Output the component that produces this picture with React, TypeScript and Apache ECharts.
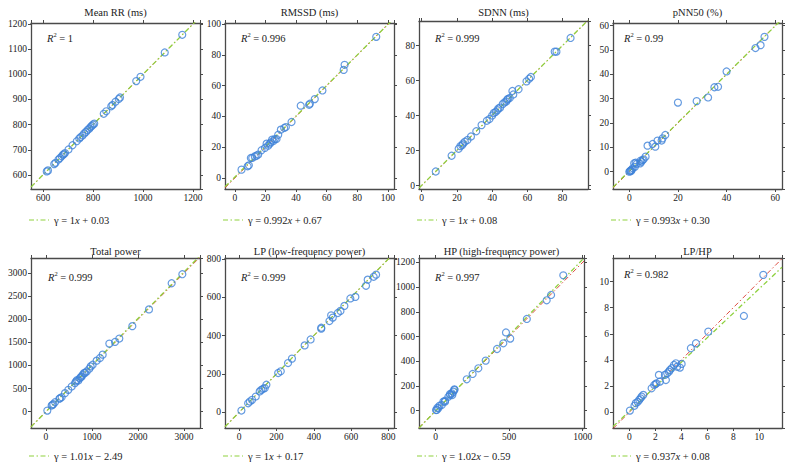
import { useEffect, useRef } from "react";
import * as echarts from "echarts";

// ---------- data ----------
const titles = [
  "Mean RR (ms)",
  "RMSSD (ms)",
  "SDNN (ms)",
  "pNN50 (%)",
  "Total power",
  "LP (low-frequency power)",
  "HP (high-frequency power)",
  "LP/HP",
];
const r2Labels = ["1", "0.996", "0.999", "0.99", "0.999", "0.999", "0.997", "0.982"];
const fitSlopes = [1, 0.992, 1, 0.993, 1.01, 1, 1.02, 0.937];
const fitIntercepts = [0.03, 0.67, 0.08, 0.3, -2.49, 0.17, -0.59, 0.08];
const fitSlopeText = ["1", "0.992", "1", "0.993", "1.01", "1", "1.02", "0.937"];
const fitInterceptText = ["+ 0.03", "+ 0.67", "+ 0.08", "+ 0.30", "\u2212 2.49", "+ 0.17", "\u2212 0.59", "+ 0.08"];
// the HP panel's printed x ticks are compressed relative to its y ticks (lines run at 1.2 in axis units)
const axisUnitRatio = [1, 1, 1, 1, 1, 1, 1.2, 1];

const meanRR = [
  [615, 614], [620, 618], [645, 643], [650, 648], [662, 661], [668, 667], [675, 674], [680, 680],
  [684, 683], [688, 687], [702, 701], [718, 718], [735, 734], [745, 745], [750, 750], [758, 757],
  [765, 765], [772, 771], [778, 778], [785, 784], [790, 790], [795, 795], [800, 800], [805, 804],
  [843, 843], [853, 853], [873, 873], [878, 878], [890, 891], [903, 902], [908, 908], [973, 973],
  [990, 990], [1087, 1087], [1157, 1157],
];
const rmssd = [
  [4.3, 5.4], [8.3, 7.6], [9.1, 8.2], [10.4, 13], [11.3, 13], [13, 14], [14.1, 14.5], [15.2, 15.2],
  [17.4, 18], [19.6, 19.5], [20.7, 22.3], [21.7, 21], [22.8, 22.3], [23.5, 23.2], [24.3, 24.9],
  [25.2, 24], [26.1, 25.3], [27.2, 25.3], [28.3, 28.1], [30, 31.4], [32.2, 32.5], [33.3, 33.1],
  [37, 36.4], [43, 47], [48.5, 47.6], [49, 48.3], [52.2, 51.3], [57.2, 56.9], [71.1, 70.3],
  [71.7, 73.6], [92.4, 91.8],
];
const sdnn = [
  [8, 8], [17, 17], [21, 21], [22, 22.5], [23, 23], [23.5, 24], [24.5, 25], [26, 26], [28, 28],
  [31, 31], [34, 34.5], [37, 37], [38.5, 38], [40, 40], [41, 41.5], [42, 42], [43, 43], [43.5, 44],
  [44.5, 44.5], [46, 46.5], [47, 47.5], [48, 48], [48.5, 49], [49, 49.5], [50, 50], [51.5, 54],
  [52, 52], [55, 55], [59.5, 59.5], [61, 61], [62, 62], [75.5, 76.5], [76.5, 76.5], [84.5, 84.3],
];
const pnn50 = [
  [0, 0], [0.3, 0.2], [0.5, 0.5], [0.8, 0.3], [1, 0.8], [1.4, 1.4], [2, 3.5], [2.6, 3.7], [2.3, 2],
  [3, 3.2], [4.4, 3.4], [4.6, 4.5], [5, 4.1], [5.5, 4.8], [5.9, 5.1], [6.7, 6.2], [7.5, 10.7],
  [9.6, 11.4], [10.7, 10.3], [11.6, 12.8], [13.3, 12.8], [13.7, 13.7], [14.8, 15.1], [20, 28.4],
  [27.7, 29], [32.4, 30.5], [35, 34.7], [36.5, 34.9], [40, 41.2], [51.9, 50.8], [54, 52], [55.6, 55.4],
];
const totalPower = [
  [29, 22], [123, 131], [140, 150], [160, 160], [196, 203], [290, 280], [304, 290], [340, 312],
  [413, 400], [486, 472], [558, 545], [630, 617], [652, 654], [670, 680], [703, 675], [739, 726],
  [760, 750], [775, 762], [797, 799], [826, 835], [850, 840], [884, 871], [942, 930], [971, 980],
  [1014, 1017], [1101, 1104], [1174, 1162], [1232, 1235], [1377, 1474], [1500, 1510], [1594, 1583],
  [1877, 1852], [2239, 2215], [2732, 2782], [2964, 2978],
];
const lpPower = [
  [12, 9], [48, 47], [57, 56], [69, 65], [89, 82], [110, 109], [119, 117], [128, 123], [137, 126],
  [146, 144], [209, 205], [223, 214], [262, 257], [283, 280], [351, 349], [383, 380], [440, 436],
  [440, 441], [484, 476], [493, 506], [502, 494], [529, 518], [543, 529], [564, 555], [596, 594],
  [623, 602], [680, 660], [689, 692], [721, 707], [734, 718],
];
const hpPower = [
  [2, 5], [7, 6], [11, 24], [18, 20], [25, 40], [41, 46], [52, 73], [63, 73], [63, 81], [86, 113],
  [97, 135], [98, 127], [109, 140], [113, 127], [120, 154], [127, 168], [127, 173], [211, 254],
  [251, 297], [290, 343], [340, 405], [417, 499], [460, 545], [478, 633], [507, 583], [620, 742],
  [755, 893], [785, 936], [868, 1095],
];
const lpHp = [
  [0.05, 0.13], [0.4, 0.5], [0.5, 0.7], [0.65, 0.8], [0.77, 0.95], [0.87, 1.07], [0.95, 1.2],
  [1.08, 1.33], [1.72, 1.84], [1.92, 2.09], [2.03, 2.17], [2.1, 2.22], [2.28, 2.86], [2.36, 2.35],
  [2.74, 2.86], [2.82, 2.47], [2.92, 2.98], [3.05, 3.11], [3.13, 3.24], [3.26, 3.37], [3.44, 3.62],
  [3.59, 3.75], [3.69, 3.49], [3.9, 3.42], [4.03, 3.7], [4.74, 4.9], [5.13, 5.28], [6.08, 6.17],
  [8.82, 7.37], [10.31, 10.51],
];
const panelData = [meanRR, rmssd, sdnn, pnn50, totalPower, lpPower, hpPower, lpHp];

// axis extents and split numbers
const xMin = [552, -6.5, -1.5, -6.7, -326, -76, -114, -1.25];
const xMax = [1228, 104, 94.4, 62.8, 3348, 830, 1009, 11.75];
const yMin = [544, -7.2, -2, -7.1, -355, -82, -140, -1.2];
const yMax = [1204, 100.8, 94, 61.1, 3329, 805, 1235, 11.8];
const xSplit = [4, 5, 5, 3, 3, 5, 2, 6];
const ySplit = [7, 5, 5, 7, 7, 5, 7, 6];

// ---------- layout ----------
const gridLeft = [31, 225, 419, 613, 31, 225, 419, 613];
const gridTop = [23, 23, 21, 23, 258, 258, 258, 258];
const gridWidth = [169, 169, 169, 169, 169, 169, 165, 169];
const gridHeight = [166, 166, 168, 166, 170, 170, 170, 170];
const r2Dx = [16, 16, 16, 11, 17, 16, 16, 11];
const r2Dy = [15, 15, 17, 15, 19, 19, 19, 16];

const FONT = '"Liberation Serif", "Times New Roman", serif';
const BLUE = "#3f82d8";
const GREEN = "#8fd13f";
const RED = "#d9392c";
const AXIS = "#4a4a4a";
const DASH = [5, 2.5, 1.5, 2.5];

function axis(gridIndex: number, position: string, min: number, max: number, split: number, labels: boolean) {
  return {
    type: "value",
    gridIndex,
    position,
    min,
    max,
    splitNumber: split,
    axisLine: { show: true, onZero: false, lineStyle: { color: AXIS, width: 1.3 } },
    axisTick: { show: true, inside: false, length: 3, lineStyle: { color: AXIS, width: 1 } },
    axisLabel: {
      show: labels,
      showMinLabel: false,
      showMaxLabel: false,
      fontFamily: FONT,
      fontSize: 9.5,
      color: "#222",
      margin: 4,
      formatter: (v: number) => String(v),
    },
    splitLine: { show: false },
  };
}

export default function App() {
  const ref = useRef<HTMLDivElement>(null);
  useEffect(() => {
    if (!ref.current) return;
    const chart = echarts.init(ref.current, null, { renderer: "svg" });
    const grids: any[] = [];
    const xAxes: any[] = [];
    const yAxes: any[] = [];
    const series: any[] = [];
    const graphics: any[] = [];
    for (let i = 0; i < 8; i++) {
      grids.push({ left: gridLeft[i], top: gridTop[i], width: gridWidth[i], height: gridHeight[i], containLabel: false });
      xAxes.push(axis(i, "bottom", xMin[i], xMax[i], xSplit[i], true));
      xAxes.push(axis(i, "top", xMin[i], xMax[i], xSplit[i], false));
      yAxes.push(axis(i, "left", yMin[i], yMax[i], ySplit[i], true));
      yAxes.push(axis(i, "right", yMin[i], yMax[i], ySplit[i], false));
      const xi = i * 2;
      const k = axisUnitRatio[i];
      series.push({
        type: "line",
        xAxisIndex: xi,
        yAxisIndex: xi,
        data: [[xMin[i], k * xMin[i]], [xMax[i], k * xMax[i]]],
        symbol: "none",
        clip: true,
        silent: true,
        z: 1,
        lineStyle: { color: RED, width: 0.9, type: DASH },
      });
      series.push({
        type: "line",
        xAxisIndex: xi,
        yAxisIndex: xi,
        data: [
          [xMin[i], k * fitSlopes[i] * xMin[i] + fitIntercepts[i]],
          [xMax[i], k * fitSlopes[i] * xMax[i] + fitIntercepts[i]],
        ],
        symbol: "none",
        clip: true,
        silent: true,
        z: 2,
        lineStyle: { color: GREEN, width: 1.3, type: DASH },
      });
      series.push({
        type: "scatter",
        xAxisIndex: xi,
        yAxisIndex: xi,
        data: panelData[i],
        symbol: "circle",
        symbolSize: 7,
        z: 3,
        itemStyle: { color: "rgba(255,255,255,0)", borderColor: BLUE, borderWidth: 1.2 },
      });
      const cx = gridLeft[i] + gridWidth[i] / 2;
      const titleY = i < 4 ? 12 : 251;
      graphics.push({
        type: "text",
        x: cx,
        y: titleY,
        style: {
          text: titles[i],
          fontFamily: FONT,
          fontSize: 10.5,
          fill: "#222",
          align: "center",
          verticalAlign: "middle",
          textAlign: "center",
          textVerticalAlign: "middle",
        },
      });
      graphics.push({
        type: "text",
        x: gridLeft[i] + r2Dx[i],
        y: gridTop[i] + r2Dy[i],
        style: {
          text: `{i|R}{s|2}{n| = ${r2Labels[i]}}`,
          align: "left",
          verticalAlign: "middle",
          textAlign: "left",
          textVerticalAlign: "middle",
          rich: {
            i: { fontFamily: FONT, fontSize: 10.5, fontStyle: "italic", fill: "#222", lineHeight: 14 },
            s: { fontFamily: FONT, fontSize: 6.5, fill: "#222", verticalAlign: "top" },
            n: { fontFamily: FONT, fontSize: 10.5, fill: "#222", lineHeight: 14 },
          },
        },
      });
      const ly = i < 4 ? 220 : 456;
      graphics.push({
        type: "line",
        shape: { x1: gridLeft[i] - 2, y1: ly, x2: gridLeft[i] + 18, y2: ly },
        style: { stroke: GREEN, lineWidth: 1.2, lineDash: DASH },
      });
      graphics.push({
        type: "text",
        x: gridLeft[i] + 23,
        y: ly,
        style: {
          text: `{n|\u03b3 = ${fitSlopeText[i]}}{i|x}{n| ${fitInterceptText[i]}}`,
          align: "left",
          verticalAlign: "middle",
          textAlign: "left",
          textVerticalAlign: "middle",
          rich: {
            n: { fontFamily: FONT, fontSize: 10.5, fill: "#222" },
            i: { fontFamily: FONT, fontSize: 10.5, fontStyle: "italic", fill: "#222" },
          },
        },
      });
    }
    chart.setOption({
      animation: false,
      backgroundColor: "#ffffff",
      grid: grids,
      xAxis: xAxes,
      yAxis: yAxes,
      series,
      graphic: graphics,
    });
    return () => chart.dispose();
  }, []);
  return (
    <div
      ref={ref}
      style={{ position: "absolute", left: 0, top: 0, width: 791, height: 470, background: "#fff" }}
    />
  );
}
